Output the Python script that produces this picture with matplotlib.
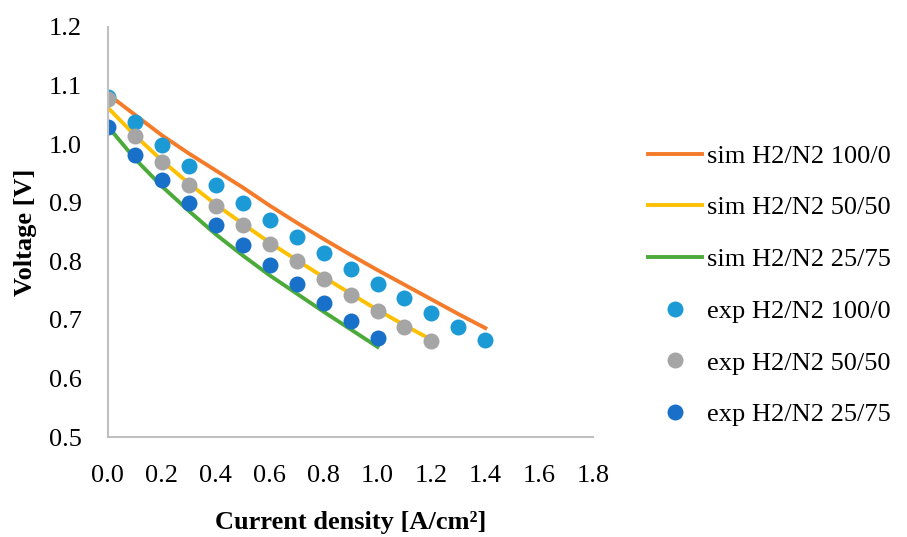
import numpy as np
import matplotlib.pyplot as plt

# current density [A/cm2]
x_100 = [0.0, 0.1, 0.2, 0.3, 0.4, 0.5, 0.6, 0.7, 0.8, 0.9, 1.0, 1.1, 1.2, 1.3, 1.4]
x_50 = [0.0, 0.1, 0.2, 0.3, 0.4, 0.5, 0.6, 0.7, 0.8, 0.9, 1.0, 1.1, 1.2]
x_25 = [0.0, 0.1, 0.2, 0.3, 0.4, 0.5, 0.6, 0.7, 0.8, 0.9, 1.0]

# simulated voltage [V]
sim_100 = [1.085, 1.050, 1.015, 0.984, 0.955, 0.926, 0.895, 0.866, 0.838, 0.811,
           0.785, 0.760, 0.735, 0.710, 0.686]
sim_50 = [1.062, 1.015, 0.972, 0.933, 0.897, 0.864, 0.832, 0.802, 0.773, 0.745,
          0.717, 0.691, 0.666]
sim_25 = [1.030, 0.975, 0.928, 0.886, 0.846, 0.810, 0.776, 0.745, 0.714, 0.684, 0.654]

# experimental voltage [V]
exp_100 = [1.080, 1.038, 0.999, 0.963, 0.930, 0.900, 0.871, 0.842, 0.814, 0.787,
           0.761, 0.737, 0.712, 0.688, 0.666]
exp_50 = [1.077, 1.014, 0.970, 0.930, 0.894, 0.862, 0.830, 0.800, 0.770, 0.742,
          0.715, 0.688, 0.664]
exp_25 = [1.029, 0.981, 0.939, 0.900, 0.862, 0.828, 0.794, 0.761, 0.729, 0.698, 0.669]

x_ticks = [0.0, 0.2, 0.4, 0.6, 0.8, 1.0, 1.2, 1.4, 1.6, 1.8]
y_ticks = [0.5, 0.6, 0.7, 0.8, 0.9, 1.0, 1.1, 1.2]

plt.rcParams['font.family'] = ['Liberation Serif', 'DejaVu Serif']

fig = plt.figure(figsize=(9.07, 5.37), dpi=100)
ax = fig.add_axes([0.119, 0.186, 0.535, 0.764])

lw = 2.8
ms = 11.5
ax.plot(x_100, sim_100, color='#F47B2A', lw=lw, label='sim H2/N2 100/0')
ax.plot(x_50, sim_50, color='#FFC000', lw=lw, label='sim H2/N2 50/50')
ax.plot(x_25, sim_25, color='#4CAA3A', lw=lw, label='sim H2/N2 25/75')
ax.plot(x_100, exp_100, 'o', color='#1B9AD6', ms=ms, mew=0, label='exp H2/N2 100/0')
ax.plot(x_50, exp_50, 'o', color='#A5A5A5', ms=ms, mew=0, label='exp H2/N2 50/50')
ax.plot(x_25, exp_25, 'o', color='#1870C8', ms=ms, mew=0, label='exp H2/N2 25/75')

ax.set_xlim(0, 1.8)
ax.set_ylim(0.5, 1.2)
ax.set_xticks(x_ticks)
ax.set_xticklabels([f'{v:.1f}' for v in x_ticks])
ax.set_yticks(y_ticks)
ax.set_yticklabels([f'{v:.1f}' for v in y_ticks])
ax.tick_params(length=0, labelsize=19)
ax.tick_params(axis='x', pad=20)
ax.tick_params(axis='y', pad=19)

for side in ['top', 'right']:
    ax.spines[side].set_visible(False)
for side in ['left', 'bottom']:
    ax.spines[side].set_color('#C0C0C0')
    ax.spines[side].set_linewidth(1.5)

ax.set_xlabel('Current density [A/cm²]', fontsize=19, fontweight='bold', labelpad=17)
ax.set_ylabel('Voltage [V]', fontsize=19, fontweight='bold', labelpad=8)

ax.legend(loc='center left', bbox_to_anchor=(1.113, 0.37), frameon=False,
          fontsize=19, handlelength=2.05, handletextpad=0.2, labelspacing=1.07,
          borderaxespad=0, borderpad=0)

fig.savefig('out.png', dpi=100)
